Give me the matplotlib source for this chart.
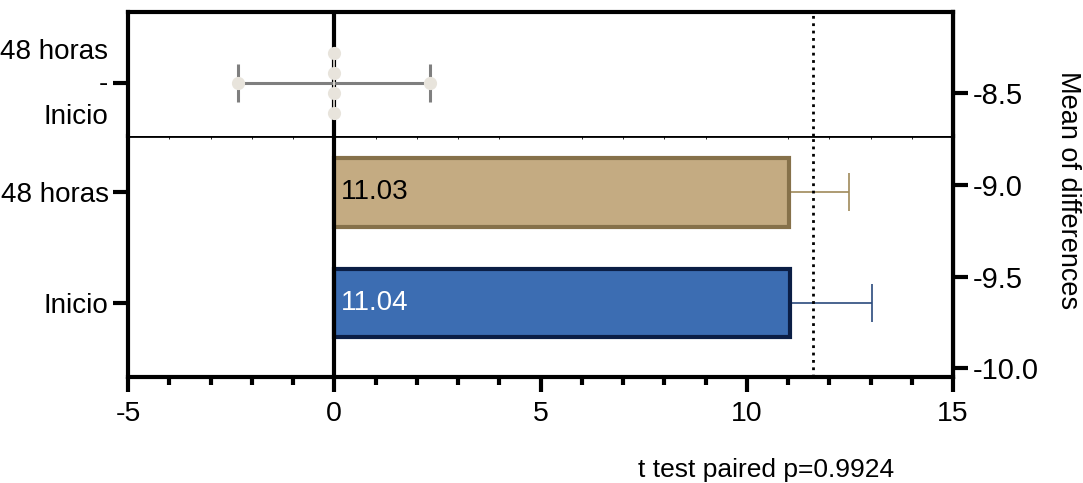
import matplotlib.pyplot as plt

plt.rcParams['font.family'] = ['Liberation Sans', 'DejaVu Sans']
plt.rcParams['axes.unicode_minus'] = False

# data
groups = ['Inicio', '48 horas']
means = [11.04, 11.03]
err_up = [1.99, 1.46]
fill_colors = ['#3c6db2', '#c4ab82']
edge_colors = ['#0b1e45', '#86714a']
err_colors = ['#2b4a7d', '#a08a5a']
label_colors = ['white', 'black']

diff_label = '48 horas\n-\nInicio'
diff_mean = -0.01
diff_ci = [-2.34, 2.32]
diff_marks_y = [0.42, 0.14, -0.14, -0.42]
ref_line = 11.6
right_ticks = [-10.0, -9.5, -9.0, -8.5]
p_text = 't test paired p=0.9924'

fs = 20
W, H = 1083, 483
fig = plt.figure(figsize=(W / 100, H / 100), dpi=100)

left = 128 / W
width = (953 - 128) / W
y_bot = 1 - 377 / H
y_mid = 1 - 136 / H
y_top = 1 - 12 / H

ax = fig.add_axes([left, y_bot, width, y_mid - y_bot])
ax_t = fig.add_axes([left, y_mid, width, y_top - y_mid], sharex=ax)
ax_r = fig.add_axes([left, y_bot, width, y_top - y_bot], zorder=-1)

# bottom panel: bars
for i, g in enumerate(groups):
    ax.barh(i, means[i], height=0.62, color=fill_colors[i],
            edgecolor=edge_colors[i], linewidth=3, zorder=2)
    ax.errorbar(means[i], i, xerr=[[0], [err_up[i]]], fmt='none',
                ecolor=err_colors[i], elinewidth=1.2, capsize=13.5,
                capthick=1.2, zorder=1)
    ax.annotate('%.2f' % means[i], xy=(0, i), xytext=(5, 0),
                textcoords='offset points', ha='left', va='center',
                fontsize=20, color=label_colors[i], zorder=4)

ax.axvline(0, color='k', lw=3, zorder=3)
ax.axvline(ref_line, color='k', lw=2, ls=':', zorder=3)
ax.set_xlim(-5, 15)
ax.set_ylim(-0.673, 1.512)
ax.set_xticks([-5, 0, 5, 10, 15])
ax.set_xticks(range(-5, 16), minor=True)
ax.set_yticks(range(len(groups)))
ax.set_yticklabels(groups)
ax.tick_params(axis='x', which='major', length=11, width=3, labelsize=20.5, pad=6)
ax.tick_params(axis='x', which='minor', length=6, width=3)
ax.tick_params(axis='y', length=11, width=3, labelsize=fs, pad=3)
for s in ['left', 'bottom', 'right']:
    ax.spines[s].set_linewidth(3)
ax.spines['top'].set_linewidth(2)

# top panel: mean of differences with CI
ax_t.axvline(0, color='k', lw=3, zorder=1)
ax_t.axvline(ref_line, color='k', lw=2, ls=':', zorder=1)
ax_t.errorbar(diff_mean, 0, xerr=[[diff_mean - diff_ci[0]], [diff_ci[1] - diff_mean]],
              fmt='none', ecolor='#7f7f7f', elinewidth=2.2, capsize=14,
              capthick=2.2, zorder=2)
ax_t.plot(diff_ci, [0, 0], 'o', color='#e8e4dc', ms=9.5, mec='none', zorder=3)
ax_t.plot([diff_mean] * 2, [diff_marks_y[0], diff_marks_y[-1]],
          color='#e8e4dc', lw=1.2, zorder=2)
ax_t.plot([diff_mean] * len(diff_marks_y), diff_marks_y, 'o',
          color='#e8e4dc', ms=9.5, mec='none', zorder=3)
ax_t.set_ylim(-0.746, 1.0)
ax_t.set_yticks([0])
ax_t.set_yticklabels([''])
ax_t.annotate(diff_label, xy=(0, 0), xycoords=('axes fraction', 'data'),
              xytext=(-14.5, -1), textcoords='offset points', ha='right',
              va='center', multialignment='right', linespacing=1.32,
              fontsize=fs, annotation_clip=False)
ax_t.tick_params(axis='y', length=11, width=3, labelsize=fs, pad=3)
ax_t.tick_params(axis='x', bottom=False, labelbottom=False)
for s in ['left', 'top', 'right']:
    ax_t.spines[s].set_linewidth(3)
ax_t.spines['bottom'].set_visible(False)

# right axis
ax_r.patch.set_visible(False)
for s in ['left', 'top', 'bottom']:
    ax_r.spines[s].set_visible(False)
ax_r.spines['right'].set_linewidth(3)
ax_r.set_xticks([])
ax_r.yaxis.tick_right()
ax_r.set_ylim(-10.049, -8.055)
ax_r.set_yticks(right_ticks)
ax_r.set_yticklabels(['%.1f' % v for v in right_ticks])
ax_r.tick_params(axis='y', length=11, width=3, labelsize=21, pad=3)

fig.text(1068 / W, 1 - 190 / H, 'Mean of differences', rotation=270,
         ha='center', va='center', fontsize=19.5)
fig.text(766 / W, 1 - 470 / H, p_text, ha='center', va='center', fontsize=19)

plt.savefig('out.png', dpi=100)
